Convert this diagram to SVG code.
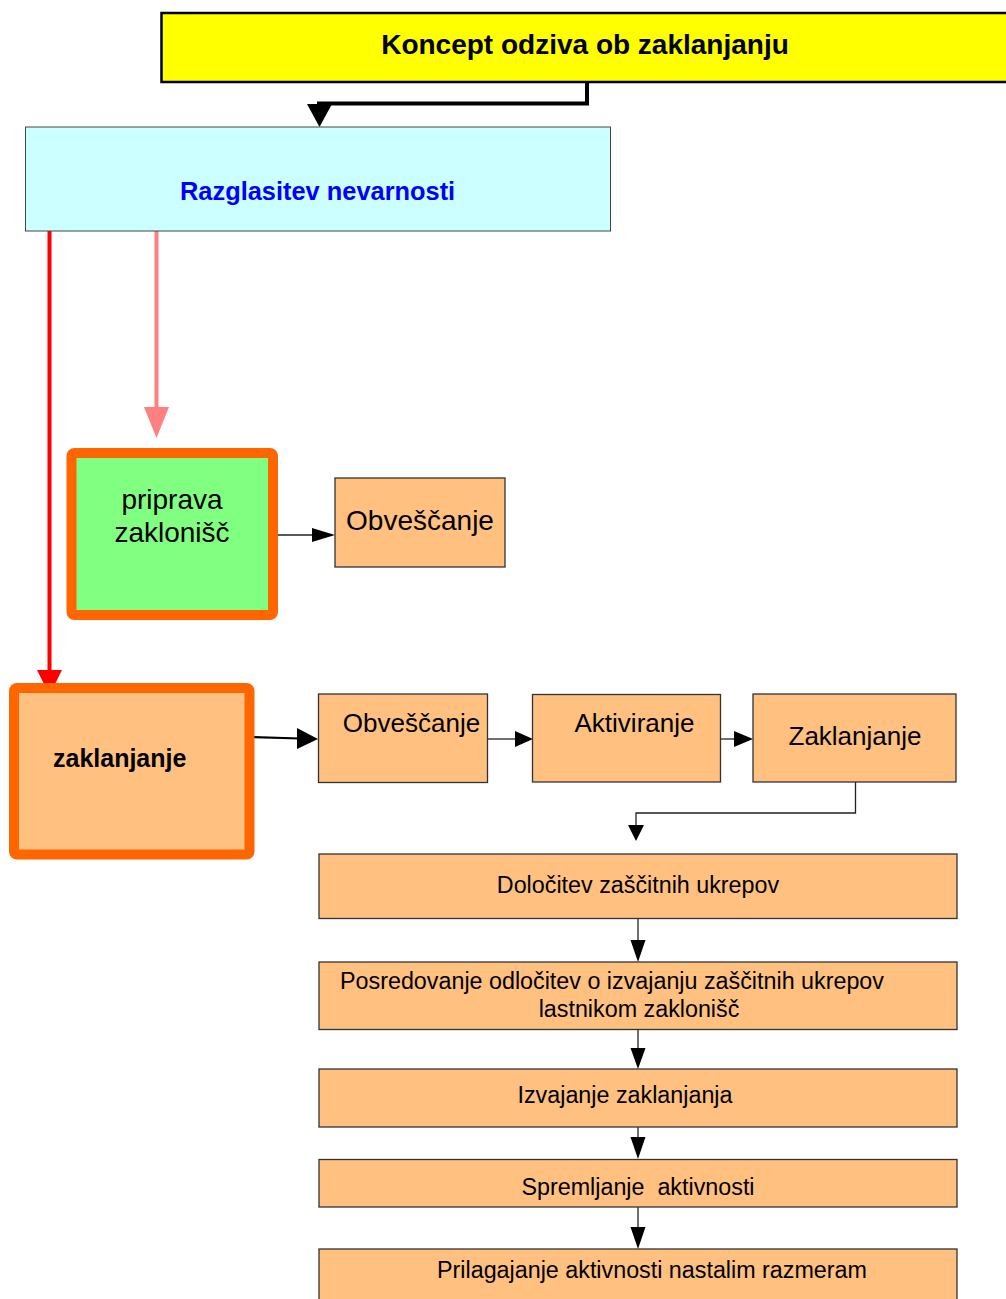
<svg xmlns="http://www.w3.org/2000/svg" width="1006" height="1299" viewBox="0 0 1006 1299">
<style>
text{font-family:"Liberation Sans",Arial,sans-serif;fill:#000}
.peach{fill:#FFC080;stroke:#333;stroke-width:1.3}
.thick{fill:none;stroke:#FF6600;stroke-width:10}
.ln{fill:none;stroke:#222;stroke-width:1.3}
.ah{fill:#000;stroke:none}
.t23{font-size:23.3px;text-anchor:middle}
.t26{font-size:26px;text-anchor:middle}
.t28{font-size:28px;text-anchor:middle}
</style>
<rect width="1006" height="1299" fill="#fff"/>
<g id="connectors">
  <polyline points="587,82 587,103.5 319,103.5 319,108" fill="none" stroke="#000" stroke-width="4"/>
  <polygon class="ah" points="307,104 332,104 319.5,127"/>
  <line x1="49.5" y1="229" x2="49.5" y2="672" stroke="#FF0000" stroke-width="4"/>
  <polygon points="37,670 62,670 49.5,695" fill="#FF0000"/>
  <line x1="156.5" y1="229" x2="156.5" y2="410" stroke="#FF8080" stroke-width="4"/>
  <polygon points="144,407 169,407 156.5,438" fill="#FF8080"/>
  <line class="ln" x1="273" y1="535" x2="314" y2="535"/>
  <polygon class="ah" points="312,528 335,535 312,542"/>
  <line x1="251" y1="737" x2="300" y2="738.5" stroke="#000" stroke-width="2.2"/>
  <polygon class="ah" points="297,728 318,739 297,749"/>
  <line class="ln" x1="488" y1="739" x2="516" y2="739"/>
  <polygon class="ah" points="515,731 533,739 515,747"/>
  <line class="ln" x1="720" y1="739" x2="736" y2="739"/>
  <polygon class="ah" points="734,731 753,739 734,747"/>
  <polyline class="ln" points="855.5,782 855.5,813 636,813 636,826"/>
  <polygon class="ah" points="628,825 644,825 636,841"/>
  <line class="ln" x1="638" y1="918" x2="638" y2="942"/>
  <polygon class="ah" points="630.5,940 645.5,940 638,962"/>
  <line class="ln" x1="638" y1="1029" x2="638" y2="1050"/>
  <polygon class="ah" points="630.5,1048 645.5,1048 638,1069"/>
  <line class="ln" x1="638" y1="1127" x2="638" y2="1139"/>
  <polygon class="ah" points="630.5,1137 645.5,1137 638,1159"/>
  <line class="ln" x1="638" y1="1207" x2="638" y2="1229"/>
  <polygon class="ah" points="630.5,1227 645.5,1227 638,1249"/>
</g>
<g id="koncept">
  <rect x="161.5" y="13" width="860" height="69" fill="#FFFF00" stroke="#000" stroke-width="2.5"/>
  <text x="585" y="54" class="t28" font-weight="bold">Koncept odziva ob zaklanjanju</text>
</g>
<g id="razglasitev">
  <rect x="25.5" y="127" width="585" height="104" fill="#CCFFFF" stroke="#444" stroke-width="1"/>
  <text x="180" y="200" font-size="25.4" font-weight="bold" style="fill:#0000FF">Razglasitev nevarnosti</text>
</g>
<g id="priprava">
  <rect x="71.5" y="453" width="201.5" height="162" rx="3" class="thick" style="fill:#80FF80"/>
  <text x="172" y="509" class="t28">priprava</text>
  <text x="172" y="542" class="t28">zaklonišč</text>
</g>
<g id="obvescanje1">
  <rect x="335" y="478" width="170" height="89" class="peach"/>
  <text x="420" y="530" class="t28">Obveščanje</text>
</g>
<g id="zaklanjanje">
  <rect x="14" y="688" width="235.5" height="166.5" rx="3" class="thick" style="fill:#FFC080"/>
  <text x="53" y="767" font-size="25" font-weight="bold">zaklanjanje</text>
</g>
<g id="obvescanje2">
  <rect x="318.5" y="694" width="169" height="88.5" class="peach"/>
  <text x="411.5" y="732" class="t26">Obveščanje</text>
</g>
<g id="aktiviranje">
  <rect x="532.5" y="694.5" width="188" height="87.5" class="peach"/>
  <text x="634.5" y="732" class="t26">Aktiviranje</text>
</g>
<g id="zaklanjanje2">
  <rect x="753" y="694" width="203" height="88" class="peach"/>
  <text x="855" y="745" class="t26">Zaklanjanje</text>
</g>
<g id="dolocitev">
  <rect x="319" y="854" width="638" height="64.5" class="peach"/>
  <text x="638" y="893" class="t23">Določitev zaščitnih ukrepov</text>
</g>
<g id="posredovanje">
  <rect x="319" y="962" width="638" height="67.5" class="peach"/>
  <text x="612" y="989" class="t23">Posredovanje odločitev o izvajanju zaščitnih ukrepov</text>
  <text x="639" y="1017" class="t23">lastnikom zaklonišč</text>
</g>
<g id="izvajanje">
  <rect x="319" y="1069" width="638" height="58" class="peach"/>
  <text x="625" y="1103" class="t23">Izvajanje zaklanjanja</text>
</g>
<g id="spremljanje">
  <rect x="319" y="1159.5" width="638" height="47.5" class="peach"/>
  <text x="638" y="1195" class="t23" xml:space="preserve">Spremljanje  aktivnosti</text>
</g>
<g id="prilagajanje">
  <rect x="319" y="1249" width="638" height="70" class="peach"/>
  <text x="652" y="1278" class="t23">Prilagajanje aktivnosti nastalim razmeram</text>
</g>
</svg>
